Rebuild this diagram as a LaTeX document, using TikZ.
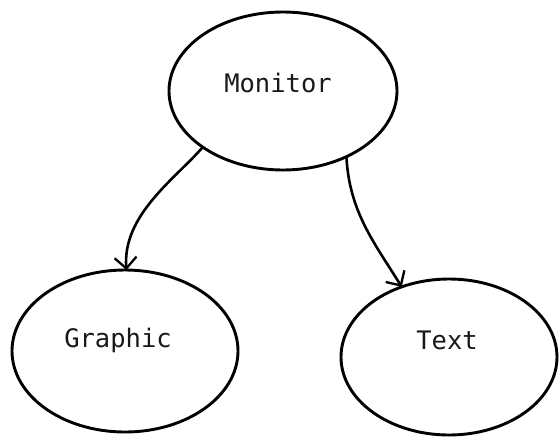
\documentclass[tikz,border=0pt]{standalone}
\usepackage{fontspec}
\setmonofont{DejaVu Sans Mono}
\usetikzlibrary{shapes.geometric,arrows.meta}
\tikzset{
  oval/.style={ellipse, draw=black, line width=2.9pt, inner sep=0pt, outer sep=0pt},
  lab/.style={font=\ttfamily\fontsize{25.5}{28}\selectfont, text=black!90, inner sep=0pt},
  conn/.style={draw=black, line width=2.6pt, -{Straight Barb[length=11pt,width=22pt,line width=2.3pt]}}
}
\begin{document}
\begin{tikzpicture}[x=1pt,y=-1pt]
\useasboundingbox (0,0) rectangle (559,437);
\node[oval, minimum width=228pt, minimum height=158pt,
      label={[lab,xshift=-5pt,yshift=8pt]center:Monitor}] (m) at (283,91) {};
\node[oval, minimum width=226pt, minimum height=162pt,
      label={[lab,xshift=-7pt,yshift=11pt]center:Graphic}] (g) at (125,351) {};
\node[oval, minimum width=216pt, minimum height=156pt,
      label={[lab,xshift=-2pt,yshift=17pt]center:Text}] (t) at (449,357) {};
\draw[conn] (m.215) .. controls +(-28,32) and +(-4,-55) .. (g.89);
\draw[conn] (m.314.6) .. controls +(3,55) and +(-28,-45) .. (t.124);
\end{tikzpicture}
\end{document}
